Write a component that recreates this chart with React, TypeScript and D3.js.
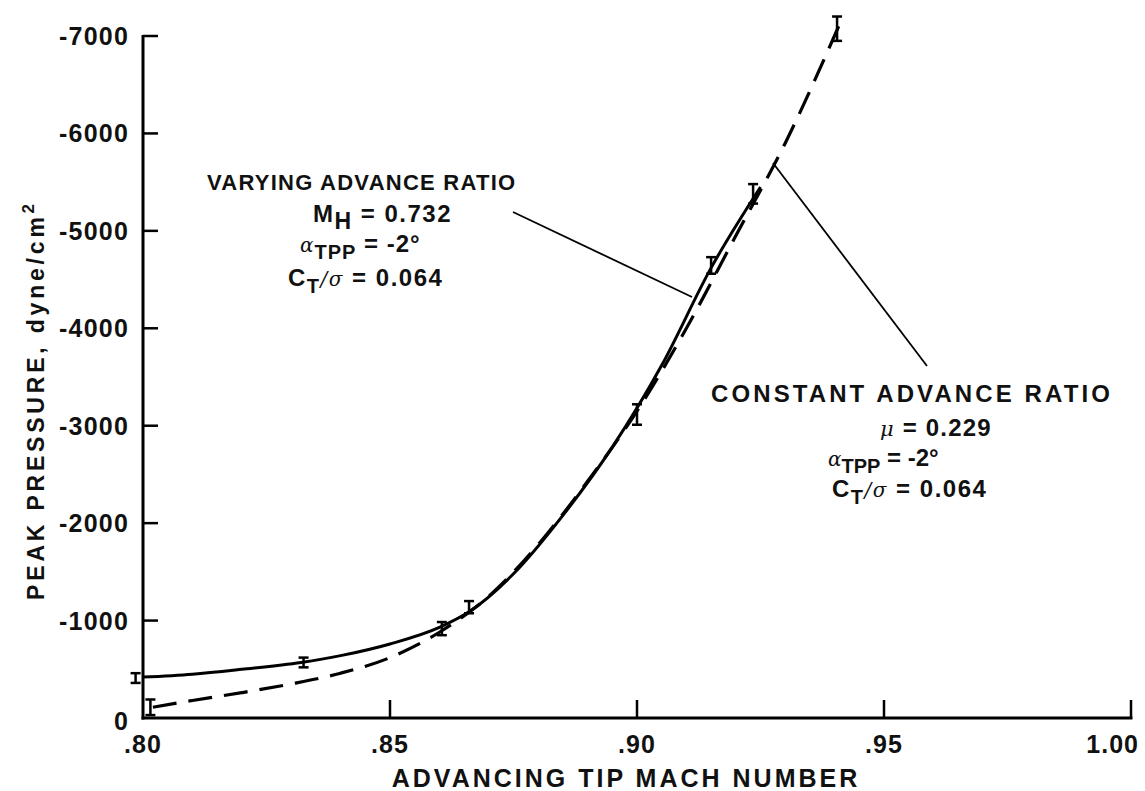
import React from "react";
import * as d3 from "d3";

const W = 1145;
const H = 791;

// Axis ticks
const xTicks = [0.8, 0.85, 0.9, 0.95, 1.0];
const xTickLabels = [".80", ".85", ".90", ".95", "1.00"];
const yTicks = [0, -1000, -2000, -3000, -4000, -5000, -6000, -7000];
const yTickLabels = ["0", "-1000", "-2000", "-3000", "-4000", "-5000", "-6000", "-7000"];

// Varying advance ratio (solid) faired curve
const varyingMach = [0.8, 0.81, 0.82, 0.832, 0.84, 0.85, 0.86, 0.866, 0.875, 0.885, 0.895, 0.905, 0.915, 0.925];
const varyingPressure = [-420, -450, -500, -570, -640, -760, -930, -1090, -1480, -2080, -2780, -3620, -4620, -5450];

// Constant advance ratio (dashed) faired curve
const constantMach = [0.802, 0.81, 0.82, 0.83, 0.84, 0.85, 0.86, 0.87, 0.88, 0.89, 0.9, 0.91, 0.92, 0.93, 0.941];
const constantPressure = [-110, -180, -260, -350, -460, -620, -880, -1250, -1780, -2430, -3150, -4000, -4950, -5900, -7120];

// Measured points with error bars
const varyingPtsMach = [0.7985, 0.8325, 0.866, 0.915];
const varyingPtsLo = [-360, -520, -1075, -4560];
const varyingPtsHi = [-460, -620, -1200, -4730];

const constantPtsMach = [0.8015, 0.8605, 0.9, 0.9235, 0.9405];
const constantPtsLo = [-30, -850, -3010, -5280, -6950];
const constantPtsHi = [-190, -985, -3220, -5480, -7200];

const FONT = "'Liberation Sans', Arial, Helvetica, sans-serif";
const GREEK = "'DejaVu Serif', serif";

export default function App() {
  const x = d3.scaleLinear().domain([0.8, 1.0]).range([143, 1131]);
  const y = d3.scaleLinear().domain([0, -7000]).range([718, 36]);

  const line = d3
    .line<[number, number]>()
    .x((d) => x(d[0]))
    .y((d) => y(d[1]))
    .curve(d3.curveMonotoneX);

  const varyingPath = line(varyingMach.map((m, i) => [m, varyingPressure[i]]) as [number, number][]);
  const constantPath = line(constantMach.map((m, i) => [m, constantPressure[i]]) as [number, number][]);

  const errBar = (m: number, lo: number, hi: number, key: string) => {
    const cx = x(m);
    const y1 = y(lo);
    const y2 = y(hi);
    return (
      <g key={key} stroke="#000" strokeWidth={2.5}>
        <line x1={cx} x2={cx} y1={y1} y2={y2} />
        <line x1={cx - 5} x2={cx + 5} y1={y1} y2={y1} />
        <line x1={cx - 5} x2={cx + 5} y1={y2} y2={y2} />
      </g>
    );
  };

  const x0 = x(0.8);
  const yBase = y(0);

  const textStyle = { fontFamily: FONT, fontWeight: 700, fill: "#111" } as React.CSSProperties;

  const greek = (ch: string, size: number, dy?: number) => (
    <tspan dy={dy} fontWeight={400} fontFamily={GREEK} fontStyle="italic" fontSize={size}>
      {ch}
    </tspan>
  );

  return (
    <svg
      width={W}
      height={H}
      viewBox={`0 0 ${W} ${H}`}
      style={{ position: "absolute", left: 0, top: 0, background: "#fff" }}
    >
      <rect x={0} y={0} width={W} height={H} fill="#fff" />
      {/* axes */}
      <line x1={x0} x2={x0} y1={y(-7000) - 1} y2={yBase + 1.5} stroke="#000" strokeWidth={3} />
      <line x1={x0 - 1.5} x2={x(1.0) + 1.5} y1={yBase} y2={yBase} stroke="#000" strokeWidth={3} />

      {/* y ticks */}
      {yTicks.map((t, i) => (
        <g key={"yt" + i}>
          {t !== 0 && (
            <line x1={x0} x2={x0 + 15} y1={y(t)} y2={y(t)} stroke="#000" strokeWidth={2.5} />
          )}
          <text
            x={129}
            y={t === 0 ? 730 : y(t) + 9}
            textAnchor="end"
            fontSize={25}
            letterSpacing={1.2}
            style={textStyle}
          >
            {yTickLabels[i]}
          </text>
        </g>
      ))}

      {/* x ticks */}
      {xTicks.map((t, i) => (
        <g key={"xt" + i}>
          {i > 0 && (
            <line x1={x(t)} x2={x(t)} y1={yBase} y2={yBase - 18} stroke="#000" strokeWidth={2.5} />
          )}
          <text
            x={i === xTicks.length - 1 ? 1139 : x(t)}
            y={753}
            textAnchor={i === xTicks.length - 1 ? "end" : "middle"}
            fontSize={25}
            letterSpacing={1}
            style={textStyle}
          >
            {xTickLabels[i]}
          </text>
        </g>
      ))}

      {/* axis titles */}
      <text x={626} y={787} textAnchor="middle" fontSize={25} letterSpacing={3} style={textStyle}>
        ADVANCING TIP MACH NUMBER
      </text>
      <text
        transform="translate(44,400) rotate(-90)"
        textAnchor="middle"
        fontSize={23}
        letterSpacing={3.8}
        style={textStyle}
      >
        PEAK PRESSURE, dyne/cm
        <tspan dy={-10} fontSize={17}>2</tspan>
      </text>

      {/* curves */}
      <path d={varyingPath || ""} fill="none" stroke="#000" strokeWidth={3} />
      <path
        d={constantPath || ""}
        fill="none"
        stroke="#000"
        strokeWidth={3.2}
        strokeDasharray="24 12"
      />

      {/* error bars */}
      {varyingPtsMach.map((m, i) => errBar(m, varyingPtsLo[i], varyingPtsHi[i], "v" + i))}
      {constantPtsMach.map((m, i) => errBar(m, constantPtsLo[i], constantPtsHi[i], "c" + i))}

      {/* leader lines */}
      <line x1={513} y1={212} x2={692} y2={297} stroke="#000" strokeWidth={1.8} />
      <line x1={773} y1={163} x2={927} y2={366} stroke="#000" strokeWidth={1.8} />

      {/* varying annotation */}
      <text x={207} y={190} fontSize={22} letterSpacing={1.25} style={textStyle}>
        VARYING ADVANCE RATIO
      </text>
      <text x={313} y={222} fontSize={24} letterSpacing={1.5} style={textStyle}>
        M<tspan dy={7} fontSize={23}>H</tspan>
        <tspan dy={-7}>{"   = 0.732"}</tspan>
      </text>
      <text x={300} y={252} fontSize={24} letterSpacing={1} style={textStyle}>
        {greek("α", 20)}
        <tspan dy={7} fontSize={20}>TPP</tspan>
        <tspan dy={-7}>{" = -2°"}</tspan>
      </text>
      <text x={288} y={286} fontSize={24} letterSpacing={1.5} style={textStyle}>
        C<tspan dy={7} fontSize={20}>T</tspan>
        {greek("/σ", 20, -7)}
        <tspan>{"  = 0.064"}</tspan>
      </text>

      {/* constant annotation */}
      <text x={711} y={402} fontSize={24} letterSpacing={3.1} style={textStyle}>
        CONSTANT ADVANCE RATIO
      </text>
      <text x={880} y={436} fontSize={24} letterSpacing={1.2} style={textStyle}>
        {greek("μ", 21)}
        <tspan>{"  = 0.229"}</tspan>
      </text>
      <text x={828} y={466} fontSize={24} letterSpacing={0} style={textStyle}>
        {greek("α", 20)}
        <tspan dy={7} fontSize={20}>TPP</tspan>
        <tspan dy={-7}>{" = -2°"}</tspan>
      </text>
      <text x={832} y={497} fontSize={24} letterSpacing={1.5} style={textStyle}>
        C<tspan dy={7} fontSize={20}>T</tspan>
        {greek("/σ", 20, -7)}
        <tspan>{"  = 0.064"}</tspan>
      </text>
    </svg>
  );
}
